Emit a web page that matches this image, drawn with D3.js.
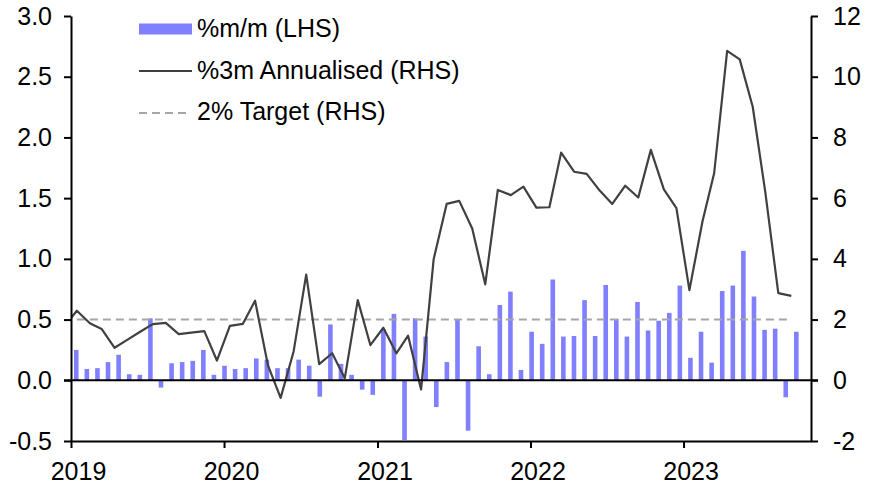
<!DOCTYPE html>
<html>
<head>
<meta charset="utf-8">
<script src="https://cdn.jsdelivr.net/npm/d3@7"></script>
<style>
  html, body { margin: 0; padding: 0; background: #fff; }
  svg { display: block; font-family: "Liberation Sans", Arial, sans-serif; }
</style>
</head>
<body>
<svg id="chart" width="878" height="490"></svg>
<script>
// ---------------- DATA ----------------
// %m/m (LHS) bar values, left to right
const barValues = [
  0.25, 0.093, 0.10, 0.15, 0.21, 0.05, 0.045, 0.51, -0.06, 0.14,
  0.15, 0.16, 0.25, 0.045, 0.12, 0.093, 0.10, 0.18, 0.17, 0.10,
  0.10, 0.17, 0.12, -0.135, 0.46, 0.135, 0.045, -0.077, -0.12, 0.42,
  0.547, -0.51, 0.51, 0.36, -0.22, 0.15, 0.50, -0.415, 0.28, 0.05,
  0.62, 0.73, 0.085, 0.40, 0.30, 0.83, 0.36, 0.365, 0.66, 0.365,
  0.785, 0.505, 0.36, 0.645, 0.41, 0.49, 0.555, 0.78, 0.185, 0.40,
  0.145, 0.735, 0.78, 1.066, 0.69, 0.415, 0.425, -0.14, 0.40
];

// %3m Annualised (RHS), monthly Dec 2018 .. Sep 2023
const lineStart = "2018-12";
const lineValues = [
  1.76,
  2.29, 1.88, 1.69, 1.07, 1.33, 1.60, 1.85, 1.89, 1.52, 1.57, 1.62, 0.65,
  1.79, 1.86, 2.62, 0.48, -0.58, 0.95, 3.48, 0.53, 0.89, 0.07, 2.64, 1.16,
  1.73, 0.89, 1.47, -0.30, 3.99, 5.81, 5.91, 5.00, 3.16, 6.27, 6.10, 6.38,
  5.69, 5.70, 7.50, 6.87, 6.80, 6.25, 5.81, 6.41, 6.02, 7.59, 6.29, 5.67,
  2.97, 5.22, 6.82, 10.85, 10.57, 9.01, 6.20, 2.87, 2.78
];

// 2% Target (RHS)
const targetValue = 2;
const targetStart = "2019-01";

const xTickLabels = ["2019", "2020", "2021", "2022", "2023"];
const leftTicks = [-0.5, 0.0, 0.5, 1.0, 1.5, 2.0, 2.5, 3.0];
const rightTicks = [-2, 0, 2, 4, 6, 8, 10, 12];
const legendLabels = ["%m/m (LHS)", "%3m Annualised (RHS)", "2% Target (RHS)"];

// ---------------- LAYOUT ----------------
const svg = d3.select("#chart");
const L = 71, R = 811, T = 16, B = 441;
const FONT = 25;
const barColor = "#8080FF";
const lineColor = "#404040";
const targetColor = "#A6A6A6";

const parseMonth = d3.timeParse("%Y-%m");
const lineDates = d3.timeMonth.range(parseMonth(lineStart), d3.timeMonth.offset(parseMonth(lineStart), lineValues.length));
const midMonth = d => d3.timeDay.offset(d, 14);

const x = d3.scaleTime()
  .domain([new Date(2019, 0, 1), new Date(2023, 10, 1)])
  .range([L, R]);

const xBar = d3.scaleBand()
  .domain(d3.range(barValues.length))
  .range([L, 801.6])
  .paddingInner(0.565)
  .paddingOuter(0.28);

const yL = d3.scaleLinear().domain([-0.5, 3]).range([B, T]);
const yR = d3.scaleLinear().domain([-2, 12]).range([B, T]);

svg.append("defs").append("clipPath").attr("id", "plotclip")
  .append("rect").attr("x", L).attr("y", T - 2).attr("width", R - L).attr("height", B - T + 1);

// bars
svg.append("g").attr("clip-path", "url(#plotclip)")
  .selectAll("rect").data(barValues).join("rect")
  .attr("x", (d, i) => xBar(i))
  .attr("width", xBar.bandwidth())
  .attr("y", d => yL(Math.max(0, d)))
  .attr("height", d => Math.abs(yL(d) - yL(0)))
  .attr("fill", barColor);

// target line
const targetDates = lineDates.filter(d => d >= parseMonth(targetStart));
svg.append("path")
  .datum(targetDates)
  .attr("fill", "none")
  .attr("stroke", targetColor)
  .attr("stroke-width", 2)
  .attr("stroke-dasharray", "8,5")
  .attr("d", d3.line().x(d => x(midMonth(d))).y(() => yR(targetValue)));

// main line
svg.append("path")
  .datum(lineValues.map((v, i) => ({ date: lineDates[i], v })))
  .attr("clip-path", "url(#plotclip)")
  .attr("fill", "none")
  .attr("stroke", lineColor)
  .attr("stroke-width", 2.2)
  .attr("stroke-linejoin", "round")
  .attr("d", d3.line().x(d => x(midMonth(d.date))).y(d => yR(d.v)));

// axes
const axisStyle = g => {
  g.selectAll(".domain").attr("stroke", "#000").attr("stroke-width", 2);
  g.selectAll(".tick line").attr("stroke", "#000").attr("stroke-width", 2);
  g.selectAll("text").attr("font-size", FONT).attr("fill", "#000")
    .attr("font-family", "Liberation Sans, Arial, sans-serif");
};

// zero line (spans plot and both tick lengths)
svg.append("line")
  .attr("x1", L - 7).attr("x2", R + 7)
  .attr("y1", yL(0)).attr("y2", yL(0))
  .attr("stroke", "#000").attr("stroke-width", 2);

// left axis
svg.append("g").attr("transform", `translate(${L},0)`)
  .call(d3.axisLeft(yL).tickValues(leftTicks).tickFormat(d3.format(".1f"))
    .tickSize(7).tickSizeOuter(0).tickPadding(12))
  .call(axisStyle)
  .call(g => g.selectAll("text").text(d => d < 0 ? "-" + d3.format(".1f")(-d) : d3.format(".1f")(d)));

// right axis
svg.append("g").attr("transform", `translate(${R},0)`)
  .call(d3.axisRight(yR).tickValues(rightTicks)
    .tickSize(7).tickSizeOuter(0).tickPadding(15))
  .call(axisStyle)
  .call(g => g.selectAll("text").text(d => d < 0 ? "-" + (-d) : d));

// bottom axis
const yearDates = xTickLabels.map(s => new Date(+s, 0, 1));
svg.append("g").attr("transform", `translate(0,${B})`)
  .call(d3.axisBottom(x).tickValues(yearDates).tickFormat((d, i) => xTickLabels[i])
    .tickSize(7).tickSizeOuter(0).tickPadding(14))
  .call(axisStyle)
  .call(g => g.selectAll(".tick text").attr("dx", 7));

// legend
const lg = svg.append("g");
const rowsY = [37, 78.5, 120];
lg.append("rect").attr("x", 139).attr("y", 23.5).attr("width", 53).attr("height", 11).attr("fill", barColor);
lg.append("line").attr("x1", 139).attr("x2", 192).attr("y1", 71).attr("y2", 71)
  .attr("stroke", lineColor).attr("stroke-width", 2);
lg.append("line").attr("x1", 139).attr("x2", 190).attr("y1", 113).attr("y2", 113)
  .attr("stroke", targetColor).attr("stroke-width", 2).attr("stroke-dasharray", "8,5");
lg.selectAll("text").data(legendLabels).join("text")
  .attr("x", 197).attr("y", (d, i) => rowsY[i])
  .attr("font-size", FONT).attr("fill", "#000")
  .text(d => d);
</script>
</body>
</html>
